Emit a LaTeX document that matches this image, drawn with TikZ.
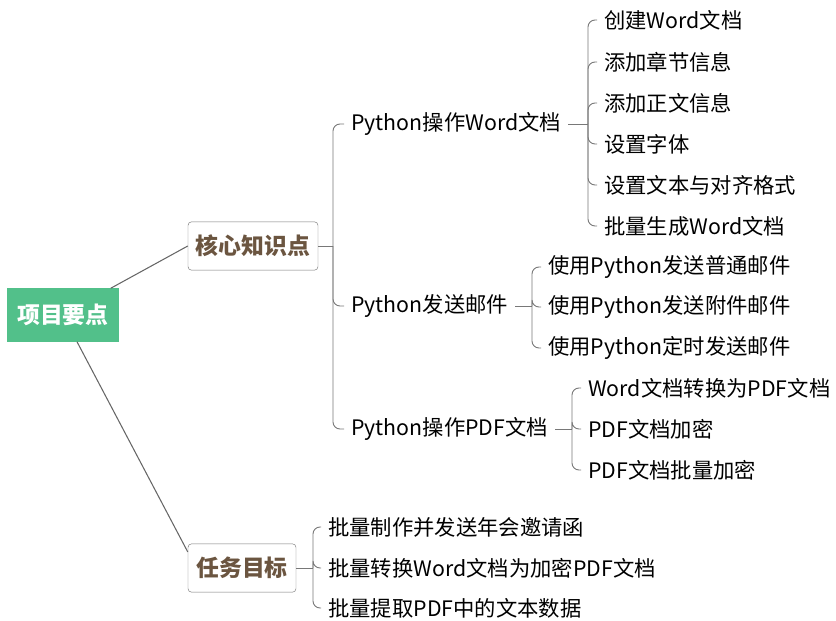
\documentclass[tikz,border=0pt]{standalone}
\usepackage{fontspec}
\setmainfont{Noto Sans CJK SC}
\usetikzlibrary{positioning}

\definecolor{rootgreen}{RGB}{82,192,138}
\definecolor{boxbrown}{RGB}{107,85,64}
\definecolor{linegray}{RGB}{120,120,120}

\tikzset{
  rootbox/.style={fill=rootgreen, text=white, font=\fontsize{19.5}{22}\selectfont\bfseries,
    minimum width=3.33cm, minimum height=1.59cm, inner sep=0pt},
  topicbox/.style={draw=linegray, fill=white, rounded corners=3pt, text=boxbrown,
    font=\fontsize{19.5}{22}\selectfont\bfseries, minimum height=1.45cm, inner sep=0pt},
  leaf/.style={anchor=west, inner xsep=6pt, inner ysep=0pt, font=\fontsize{18.2}{20}\selectfont},
  branch/.style={draw=linegray!85!black, line width=0.9pt},
  brace/.style={draw=linegray, line width=0.8pt, rounded corners=6pt},
}

\begin{document}
\begin{tikzpicture}[x=0.03cm, y=-0.03cm]
\useasboundingbox (0,0) rectangle (836,621);

% main nodes
\node[rootbox] at (63,315) (root) {项目要点};
\node[topicbox, minimum width=3.9cm] at (253,246) (core) {核心知识点};
\node[topicbox, minimum width=3.24cm] at (242,568) (task) {任务目标};

\draw[branch] (root.north east) ++(-8,0) coordinate (r1) -- (core.west);
\draw[branch] (root.south) ++(14,0) coordinate (r2) -- ([yshift=-0.25cm]task.north west);

% second level
\node[leaf] at (344,124) (word) {Python操作Word文档};
\node[leaf] at (344,306) (mail) {Python发送邮件};
\node[leaf] at (344,429) (pdf) {Python操作PDF文档};

% leaves
\node[leaf] at (597,20) (w1) {创建Word文档};
\node[leaf] at (597,62) (w2) {添加章节信息};
\node[leaf] at (597,103) (w3) {添加正文信息};
\node[leaf] at (597,144) (w4) {设置字体};
\node[leaf] at (597,185) (w5) {设置文本与对齐格式};
\node[leaf] at (597,226) (w6) {批量生成Word文档};

\node[leaf] at (541,267) (m1) {使用Python发送普通邮件};
\node[leaf] at (541,307) (m2) {使用Python发送附件邮件};
\node[leaf] at (541,348) (m3) {使用Python定时发送邮件};

\node[leaf] at (581,388) (p1) {Word文档转换为PDF文档};
\node[leaf] at (581,429) (p2) {PDF文档加密};
\node[leaf] at (581,470) (p3) {PDF文档批量加密};

\node[leaf] at (321,527) (t1) {批量制作并发送年会邀请函};
\node[leaf] at (321,568) (t2) {批量转换Word文档为加密PDF文档};
\node[leaf] at (321,608) (t3) {批量提取PDF中的文本数据};

% braces
\coordinate (cj) at (333,246);
\coordinate (wj) at (588,124);
\coordinate (mj) at (532,306);
\coordinate (pj) at (572,429);
\coordinate (tj) at (313,568);

\draw[brace] (core.east) -- (cj);
\foreach \c in {word,mail,pdf}
  \draw[brace] (cj) |- (\c.west);
\draw[brace] (word.east) -- (wj);
\foreach \i in {1,...,6}
  \draw[brace] (wj) |- (w\i.west);
\draw[brace] (mail.east) -- (mj);
\foreach \i in {1,2,3}
  \draw[brace] (mj) |- (m\i.west);
\draw[brace] (pdf.east) -- (pj);
\foreach \i in {1,2,3}
  \draw[brace] (pj) |- (p\i.west);
\draw[brace] (task.east) -- (tj);
\foreach \i in {1,2,3}
  \draw[brace] (tj) |- (t\i.west);
\end{tikzpicture}
\end{document}
